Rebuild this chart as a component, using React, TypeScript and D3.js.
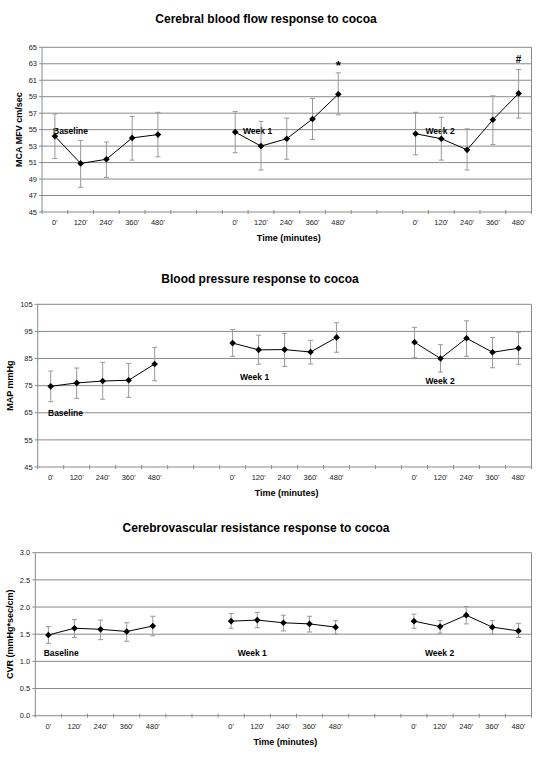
import React from "react";
import * as d3 from "d3";

const timepoints = ["0'", "120'", "240'", "360'", "480'"];
const groups = ["Baseline", "Week 1", "Week 2"];
const GAP = 2; // empty category slots between groups

// Cerebral blood flow (MCA MFV cm/sec)
const cbfMean = [54.2, 50.9, 51.4, 54.0, 54.4, 54.7, 53.0, 53.9, 56.3, 59.3, 54.5, 53.9, 52.55, 56.2, 59.4];
const cbfHigh = [56.9, 53.7, 53.5, 56.6, 57.1, 57.2, 56.0, 56.4, 58.8, 61.9, 57.1, 56.5, 55.1, 59.1, 62.3];
const cbfLow = [51.5, 48.0, 49.2, 51.3, 51.7, 52.2, 50.1, 51.4, 53.8, 56.8, 51.95, 51.3, 50.1, 53.2, 56.4];
const cbfTicks = [45, 47, 49, 51, 53, 55, 57, 59, 61, 63, 65];

// Blood pressure (MAP mmHg)
const mapMean = [74.75, 76.0, 76.7, 77.0, 83.0, 90.7, 88.2, 88.3, 87.4, 92.8, 91.0, 85.0, 92.5, 87.3, 88.8];
const mapHigh = [80.4, 81.5, 83.6, 83.2, 89.1, 95.7, 93.6, 94.2, 91.7, 98.2, 96.5, 90.1, 98.9, 92.8, 94.7];
const mapLow = [69.1, 70.3, 70.0, 70.7, 76.8, 85.8, 82.9, 82.1, 83.0, 87.3, 85.3, 80.0, 85.8, 81.6, 82.9];
const mapTicks = [45, 55, 65, 75, 85, 95, 105];

// Cerebrovascular resistance (mmHg*sec/cm)
const cvrMean = [1.485, 1.61, 1.59, 1.55, 1.65, 1.74, 1.76, 1.71, 1.69, 1.63, 1.74, 1.64, 1.85, 1.63, 1.56];
const cvrHigh = [1.64, 1.77, 1.76, 1.71, 1.83, 1.88, 1.9, 1.85, 1.83, 1.75, 1.87, 1.75, 2.01, 1.75, 1.7];
const cvrLow = [1.33, 1.44, 1.4, 1.37, 1.47, 1.61, 1.62, 1.56, 1.54, 1.5, 1.61, 1.52, 1.69, 1.5, 1.44];
const cvrTicks = [0, 0.5, 1.0, 1.5, 2.0, 2.5, 3.0];

const nSlots = groups.length * timepoints.length + (groups.length - 1) * GAP;
const slotOf = (i: number) => Math.floor(i / timepoints.length) * (timepoints.length + GAP) + (i % timepoints.length);
const slotLabels: string[] = d3.range(nSlots).map((s) => {
  const k = s % (timepoints.length + GAP);
  return k < timepoints.length ? timepoints[k] : "";
});

const FONT = "'Liberation Sans', Arial, Helvetica, sans-serif";

type PanelProps = {
  title: string;
  titleX: number;
  titleY: number;
  ylabel: string;
  ylabelX: number;
  left: number;
  right: number;
  top: number;
  bottom: number;
  ticks: number[];
  fmt: (v: number) => string;
  mean: number[];
  high: number[];
  low: number[];
  groupLabels: { x: number; v: number }[];
  marks?: { idx: number; text: string; v: number; size: number }[];
};

function Panel(p: PanelProps) {
  const x = d3.scaleBand<number>().domain(d3.range(nSlots)).range([p.left, p.right]).padding(0);
  const y = d3.scaleLinear().domain([p.ticks[0], p.ticks[p.ticks.length - 1]]).range([p.bottom, p.top]);
  const cx = (i: number) => (x(slotOf(i)) as number) + x.bandwidth() / 2;
  const gridColor = "#8a8a8a";
  const midY = (p.top + p.bottom) / 2;
  const midX = (p.left + p.right) / 2;
  return (
    <g fontFamily={FONT}>
      <text x={p.titleX} y={p.titleY} textAnchor="middle" fontSize={12} fontWeight="bold" fill="#000">
        {p.title}
      </text>
      {p.ticks.map((t) => (
        <line key={"g" + t} x1={p.left} x2={p.right} y1={y(t)} y2={y(t)} stroke={gridColor} strokeWidth={1} />
      ))}
      <line x1={p.right} x2={p.right} y1={p.top} y2={p.bottom} stroke={gridColor} strokeWidth={1} />
      <line x1={p.left} x2={p.left} y1={p.top} y2={p.bottom} stroke={gridColor} strokeWidth={1} />
      {p.ticks.map((t) => (
        <g key={"t" + t}>
          <line x1={p.left - 3} x2={p.left} y1={y(t)} y2={y(t)} stroke={gridColor} />
          <text x={p.left - 5} y={y(t) + 2.7} textAnchor="end" fontSize={7.5} fill="#222">
            {p.fmt(t)}
          </text>
        </g>
      ))}
      {d3.range(nSlots + 1).map((s) => {
        const xx = p.left + s * x.bandwidth();
        return <line key={"x" + s} x1={xx} x2={xx} y1={p.bottom - 2} y2={p.bottom + 2} stroke={gridColor} />;
      })}
      {slotLabels.map((lab, s) =>
        lab ? (
          <text key={"l" + s} x={(x(s) as number) + x.bandwidth() / 2} y={p.bottom + 13} textAnchor="middle" fontSize={7.5} fill="#222">
            {lab}
          </text>
        ) : null
      )}
      <text x={midX + 2} y={p.bottom + 29} textAnchor="middle" fontSize={9} fontWeight="bold">
        Time (minutes)
      </text>
      <text
        transform={`translate(${p.ylabelX},${midY}) rotate(-90)`}
        textAnchor="middle"
        dominantBaseline="central"
        fontSize={9}
        fontWeight="bold"
      >
        {p.ylabel}
      </text>
      {groups.map((g, gi) => (
        <text key={g} x={p.groupLabels[gi].x} y={y(p.groupLabels[gi].v) + 3.2} fontSize={8.5} fontWeight="bold" fill="#000">
          {g}
        </text>
      ))}
      {p.mean.map((_, i) => (
        <g key={"e" + i} stroke="#999" strokeWidth={1}>
          <line x1={cx(i)} x2={cx(i)} y1={y(p.high[i])} y2={y(p.low[i])} />
          <line x1={cx(i) - 2.5} x2={cx(i) + 2.5} y1={y(p.high[i])} y2={y(p.high[i])} />
          <line x1={cx(i) - 2.5} x2={cx(i) + 2.5} y1={y(p.low[i])} y2={y(p.low[i])} />
        </g>
      ))}
      {groups.map((g, gi) => {
        const idx = d3.range(gi * timepoints.length, (gi + 1) * timepoints.length);
        const d = d3
          .line<number>()
          .x((i) => cx(i))
          .y((i) => y(p.mean[i]))(idx);
        return <path key={"p" + g} d={d || ""} fill="none" stroke="#000" strokeWidth={1} />;
      })}
      {p.mean.map((v, i) => (
        <path
          key={"m" + i}
          d={d3.symbol(d3.symbolSquare, 22)() || ""}
          transform={`translate(${cx(i)},${y(v)}) rotate(45)`}
          fill="#000"
        />
      ))}
      {(p.marks || []).map((m) => (
        <text key={"k" + m.idx} x={cx(m.idx)} y={y(m.v)} textAnchor="middle" fontSize={m.size} fontWeight="bold">
          {m.text}
        </text>
      ))}
    </g>
  );
}

export default function App() {
  return (
    <svg
      width={548}
      height={763}
      style={{ position: "absolute", left: 0, top: 0, background: "#fff" }}
      xmlns="http://www.w3.org/2000/svg"
    >
      <rect width={548} height={763} fill="#fff" />
      <Panel
        title="Cerebral blood flow response to cocoa"
        titleX={266}
        titleY={23}
        ylabel="MCA MFV cm/sec"
        ylabelX={19}
        left={42}
        right={531.5}
        top={47.3}
        bottom={212}
        ticks={cbfTicks}
        fmt={d3.format("d")}
        mean={cbfMean}
        high={cbfHigh}
        low={cbfLow}
        groupLabels={[
          { x: 53, v: 54.85 },
          { x: 243, v: 54.85 },
          { x: 425.5, v: 54.85 },
        ]}
        marks={[
          { idx: 9, text: "*", v: 62.2, size: 13 },
          { idx: 14, text: "#", v: 63.1, size: 10 },
        ]}
      />
      <Panel
        title="Blood pressure response to cocoa"
        titleX={260}
        titleY={283}
        ylabel="MAP mmHg"
        ylabelX={10}
        left={37.7}
        right={531.5}
        top={304.3}
        bottom={467}
        ticks={mapTicks}
        fmt={d3.format("d")}
        mean={mapMean}
        high={mapHigh}
        low={mapLow}
        groupLabels={[
          { x: 48, v: 65 },
          { x: 240, v: 78.2 },
          { x: 425.5, v: 76.7 },
        ]}
      />
      <Panel
        title="Cerebrovascular resistance response to cocoa"
        titleX={256}
        titleY={532}
        ylabel="CVR (mmHg*sec/cm)"
        ylabelX={10}
        left={35.3}
        right={531.5}
        top={552.7}
        bottom={715.7}
        ticks={cvrTicks}
        fmt={d3.format(".1f")}
        mean={cvrMean}
        high={cvrHigh}
        low={cvrLow}
        groupLabels={[
          { x: 43.7, v: 1.16 },
          { x: 237.7, v: 1.16 },
          { x: 425, v: 1.16 },
        ]}
      />
    </svg>
  );
}
